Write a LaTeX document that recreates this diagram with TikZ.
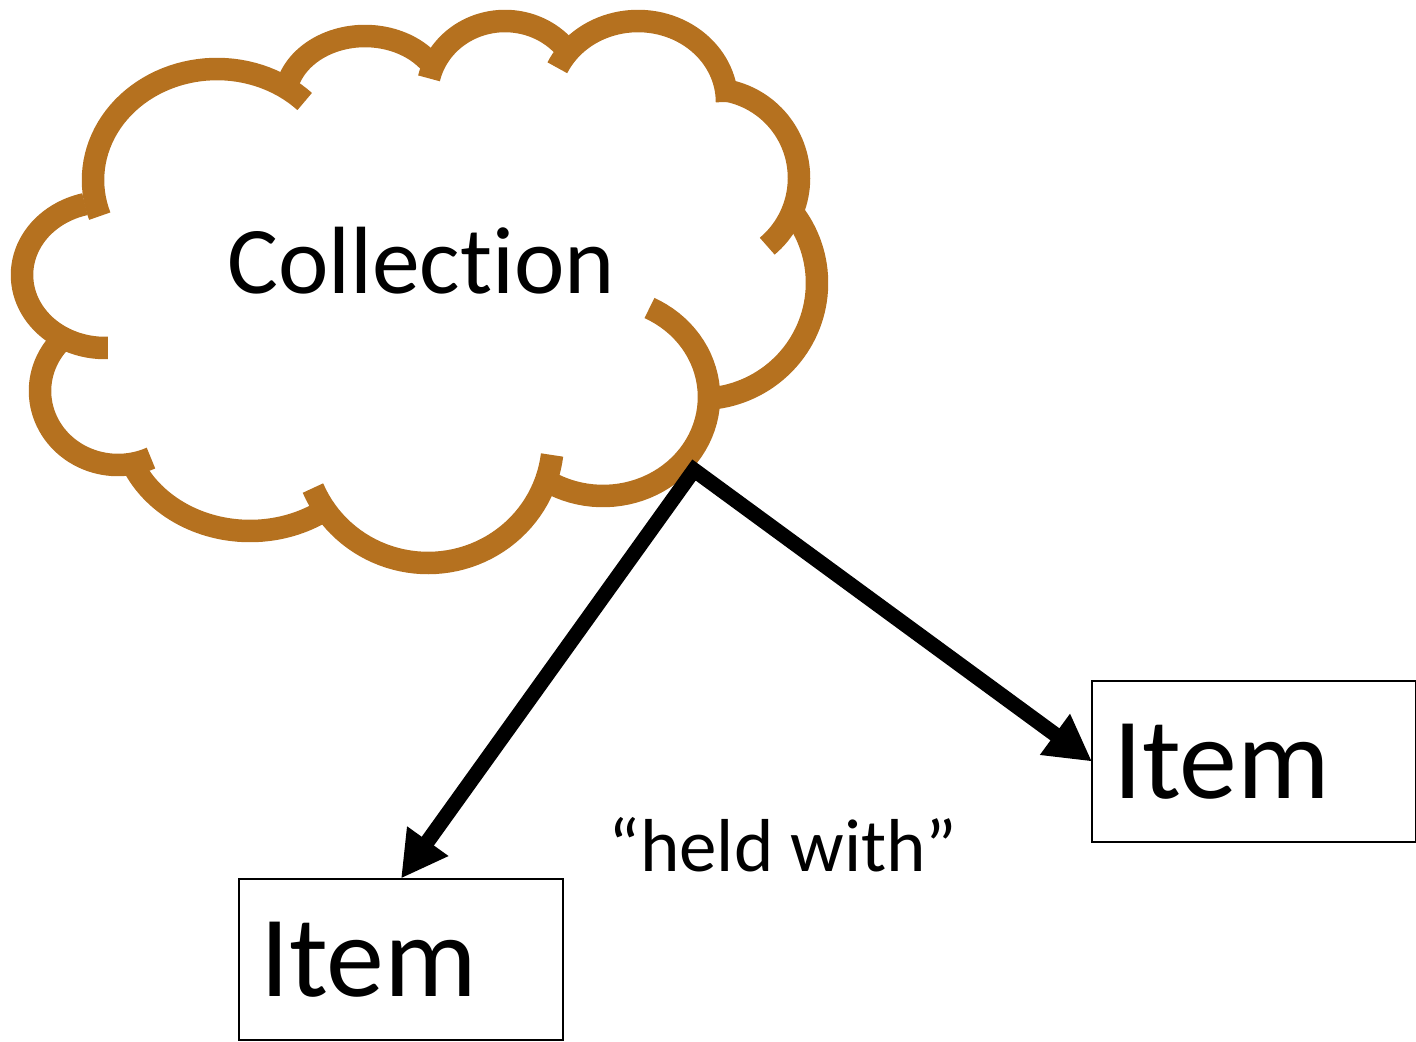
\documentclass[tikz,border=0pt]{standalone}
\usepackage{fontspec}
\setmainfont[Ligatures=NoCommon]{Carlito}
\usetikzlibrary{arrows.meta,positioning}
\definecolor{cloudbrown}{HTML}{B5711F}
\tikzset{
  lobe/.style={draw=cloudbrown,line width=0.45cm},
  itembox/.style={draw=black,line width=0.04cm,outer sep=0pt,inner xsep=0.42cm,inner ysep=0pt,
    text width=5.64cm,minimum height=3.24cm,align=left,font=\fontsize{66}{66}\selectfont},
  heldarrow/.style={draw=black,line width=0.3cm,
    {Triangle[length=0.92cm,width=0.95cm]}-{Triangle[length=0.92cm,width=0.95cm]}}
}
\begin{document}
\begin{tikzpicture}[x=0.02cm,y=-0.02cm]
\useasboundingbox (0,0) rectangle (1416,1041);
% cloud
\foreach \cx/\cy/\rx/\ry/\angA/\angB in {
  217/180/124/111/161/315,
  365/100/80/64/193/324,
  505/95/78/74/193/324,
  638/102/89/81/205/360,
  710/178/89/89/-78/50,
  700/283/117/116/-38/82,
  603/397/106/99/-64/118,
  428/440/125/123/7/157,
  250/420/128/111/50/156,
  118/391/78/74/65/224,
  105/275/83/73/88/256}
  \draw[lobe] plot[domain=\angA:\angB,samples=50] ({\cx+\rx*cos(\x)},{\cy+\ry*sin(\x)});
% labels
\node[font=\fontsize{54.4}{54.4}\selectfont,inner sep=0pt] (collection) at (421,261) {Collection};
\node[font=\fontsize{42.7}{42.7}\selectfont,inner sep=0pt] (held) at (783,845) {“held with”};
% items
\node[itembox] (itemright) at (1254,761.5) {Item};
\node[itembox] (itemleft) at (401,959.5) {Item};
\coordinate (hub) at (694,470);
\draw[heldarrow] (itemleft.north) -- (hub) -- (itemright.west);
\end{tikzpicture}
\end{document}
